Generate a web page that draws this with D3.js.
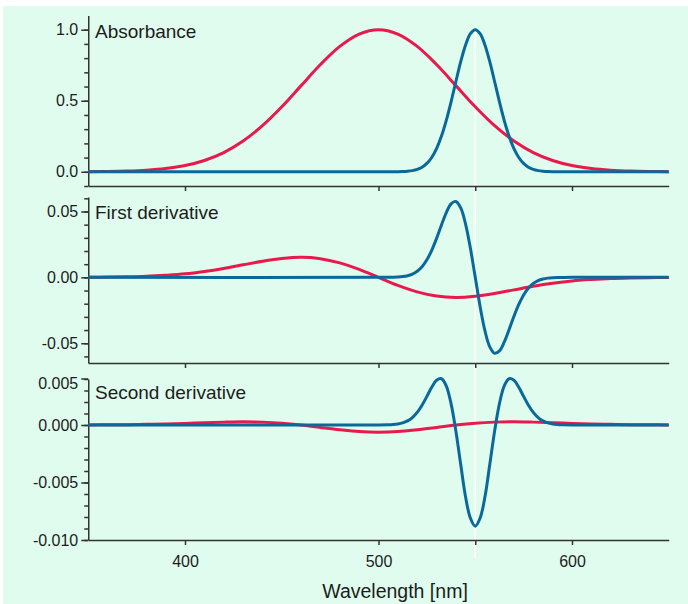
<!DOCTYPE html>
<html>
<head>
<meta charset="utf-8">
<script src="https://cdn.jsdelivr.net/npm/d3@7"></script>
<style>
body {margin: 0; background: #fff}
.axis path, .axis line {stroke: #333; stroke-width: 1.5}
.axis text {fill: #1c1c1c}
</style>
</head>
<body>
<svg width="688" height="604"></svg>
<script>
'use strict';
// wavelengths [nm] for the broad (red) and the narrow (blue) band
let aWlRed = [350, 360, 370, 380, 390, 400, 410, 420, 430, 440, 450, 460, 470, 480, 490, 500,
	510, 520, 530, 540, 550, 560, 570, 580, 590, 600, 610, 620, 630, 640, 650]
let aWlBlue = [350, 500, 505, 507.5, 510, 512.5, 515, 517.5, 520, 522.5, 525, 527.5, 530, 532.5,
	535, 537.5, 540, 542.5, 545, 547.5, 550, 552.5, 555, 557.5, 560, 562.5, 565, 567.5, 570,
	572.5, 575, 577.5, 580, 582.5, 585, 587.5, 590, 592.5, 595, 600, 650]

// red band: absorbance, first and second derivative
let aRedAbs = [0.0009, 0.0022, 0.0051, 0.0111, 0.0228, 0.0439, 0.0796, 0.1353, 0.2163, 0.3247,
	0.4578, 0.6065, 0.7548, 0.8825, 0.9692, 1.0, 0.9692, 0.8825, 0.7548, 0.6065, 0.4578, 0.3247,
	0.2163, 0.1353, 0.0796, 0.0439, 0.0228, 0.0111, 0.0051, 0.0022, 0.0009]
let aRedD1 = [0.0001, 0.0002, 0.0004, 0.0008, 0.0016, 0.0027, 0.0045, 0.0068, 0.0095, 0.0122,
	0.0143, 0.0152, 0.0142, 0.0110, 0.0061, 0, -0.0061, -0.0110, -0.0142, -0.0152, -0.0143,
	-0.0122, -0.0095, -0.0068, -0.0045, -0.0027, -0.0016, -0.0008, -0.0004, -0.0002, -0.0001]
let aRedD2 = [0.00001, 0.00002, 0.00003, 0.00006, 0.00009, 0.00014, 0.00020, 0.00025, 0.00028,
	0.00025, 0.00016, 0, -0.00021, -0.00041, -0.00057, -0.000625, -0.00057, -0.00041, -0.00021,
	0, 0.00016, 0.00025, 0.00028, 0.00025, 0.00020, 0.00014, 0.00009, 0.00006, 0.00003, 0.00002,
	0.00001]

// blue band
let aBlueAbs = [0, 0, 0.0001, 0.0003, 0.0007, 0.0017, 0.0039, 0.0083, 0.0169, 0.0324, 0.0588,
	0.1007, 0.1630, 0.2494, 0.3604, 0.4923, 0.6354, 0.7748, 0.8928, 0.9721, 1.0, 0.9721, 0.8928,
	0.7748, 0.6354, 0.4923, 0.3604, 0.2494, 0.1630, 0.1007, 0.0588, 0.0324, 0.0169, 0.0083,
	0.0039, 0.0017, 0.0007, 0.0003, 0.0001, 0, 0]
let aBlueD1 = [0, 0, 0.00004, 0.00011, 0.00026, 0.00058, 0.00123, 0.00245, 0.00459, 0.00808,
	0.01332, 0.02054, 0.02956, 0.03958, 0.04904, 0.05582, 0.05763, 0.05271, 0.04049, 0.02204, 0,
	-0.02204, -0.04049, -0.05271, -0.05763, -0.05582, -0.04904, -0.03958, -0.02956, -0.02054,
	-0.01332, -0.00808, -0.00459, -0.00245, -0.00123, -0.00058, -0.00026, -0.00011, -0.00004, 0, 0]
let aBlueD2 = [0, 0, 0.000016, 0.000039, 0.000087, 0.000181, 0.000355, 0.000647, 0.001097,
	0.001722, 0.002488, 0.003279, 0.003885, 0.004021, 0.003403, 0.001863, -0.000536, -0.003442,
	-0.006262, -0.0081, -0.0088, -0.0081, -0.006262, -0.003442, -0.000536, 0.001863, 0.003403,
	0.004021, 0.003885, 0.003279, 0.002488, 0.001722, 0.001097, 0.000647, 0.000355, 0.000181,
	0.000087, 0.000039, 0.000016, 0, 0]

let aPanelLabels = ["Absorbance", "First derivative", "Second derivative"]
let aMajorTicks = [[0, 0.5, 1.0], [-0.05, 0, 0.05], [-0.01, -0.005, 0, 0.005]]
let aXTicks = [400, 500, 550, 600]
let aXLabels = [400, 500, 600]
let sXTitle = "Wavelength [nm]"

const sRed = "#e8194c", sBlue = "#0a699a", sFont = "'Liberation Sans', Arial, sans-serif"

let eSvg = d3.select("svg")
eSvg.append("rect").attr("x", 3).attr("y", 6).attr("width", 685).attr("height", 598)
	.attr("fill", "#dffcee")

let x = d3.scaleLinear().domain([350, 650]).range([88.25, 668.75])
let fmt = d3.formatLocale({decimal: ".", thousands: ",", grouping: [3], currency: ["", ""], minus: "-"})

let aPanels = [
	{domain: [-0.1, 1.1], range: [186, 15.5], f: fmt.format(".1f"), nMinor: 12, minorMax: 1.0,
		red: aRedAbs, blue: aBlueAbs, labelY: 38},
	{domain: [-0.065, 0.061], range: [363, 197], f: fmt.format(".2f"), nMinor: 12, minorMax: 1,
		red: aRedD1, blue: aBlueD1, labelY: 219},
	{domain: [-0.010, 0.004], range: [540, 379], f: fmt.format(".3f"), nMinor: 14, minorMax: 1,
		red: aRedD2, blue: aBlueD2, labelY: 399}]

// white marker line at 550 nm, behind everything
eSvg.append("line").attr("x1", x(550)).attr("x2", x(550)).attr("y1", 30).attr("y2", 558)
	.attr("stroke", "#fff").attr("stroke-width", 1.5)

aPanels.forEach((p, i) => {
	let y = d3.scaleLinear().domain(p.domain).range(p.range)
	let gAxis = eSvg.append("g").attr("class", "axis")

	// minor ticks
	gAxis.append("g").attr("transform", "translate(88.25,0)")
		.call(d3.axisLeft(y).tickValues(y.ticks(p.nMinor).filter(v => v <= p.minorMax + 1e-9))
			.tickSize(4).tickSizeOuter(0).tickFormat(""))
		.select(".domain").remove()

	// major ticks + domain
	let gY = gAxis.append("g").attr("transform", "translate(88.25,0)")
		.call(d3.axisLeft(y).tickValues(aMajorTicks[i]).tickSize(7).tickSizeOuter(0)
			.tickPadding(3).tickFormat(p.f))
	gY.selectAll("text").attr("font-size", 16).attr("font-family", sFont)
	// a label above the top of its axis is pulled down to the axis end
	gY.selectAll(".tick").filter(d => d > p.domain[1])
		.attr("transform", `translate(0,${p.range[1]})`)
		.select("text").attr("dy", "0.32em").attr("y", 5)

	let gX = gAxis.append("g").attr("transform", `translate(0,${p.range[0]})`)
		.call(d3.axisBottom(x).tickValues(aXTicks).tickSize(5).tickSizeOuter(0).tickPadding(11)
			.tickFormat(d => (i === 2 && aXLabels.includes(d)) ? d : ""))
	gX.selectAll("text").attr("font-size", 16).attr("font-family", sFont)

	let line = d3.line().curve(d3.curveCatmullRom.alpha(0.5))
	eSvg.append("path").datum(aWlRed.map((w, j) => [x(w), y(p.red[j])]))
		.attr("d", line).attr("fill", "none").attr("stroke", sRed).attr("stroke-width", 3)
	eSvg.append("path").datum(aWlBlue.map((w, j) => [x(w), y(p.blue[j])]))
		.attr("d", line).attr("fill", "none").attr("stroke", sBlue).attr("stroke-width", 3)

	eSvg.append("text").attr("x", 95).attr("y", p.labelY).text(aPanelLabels[i])
		.attr("font-size", 19).attr("font-family", sFont).attr("fill", "#1c1c1c")
})

eSvg.append("text").attr("x", 395).attr("y", 598).attr("text-anchor", "middle").text(sXTitle)
	.attr("font-size", 19.5).attr("font-family", sFont).attr("fill", "#1c1c1c")
</script>
</body>
</html>
